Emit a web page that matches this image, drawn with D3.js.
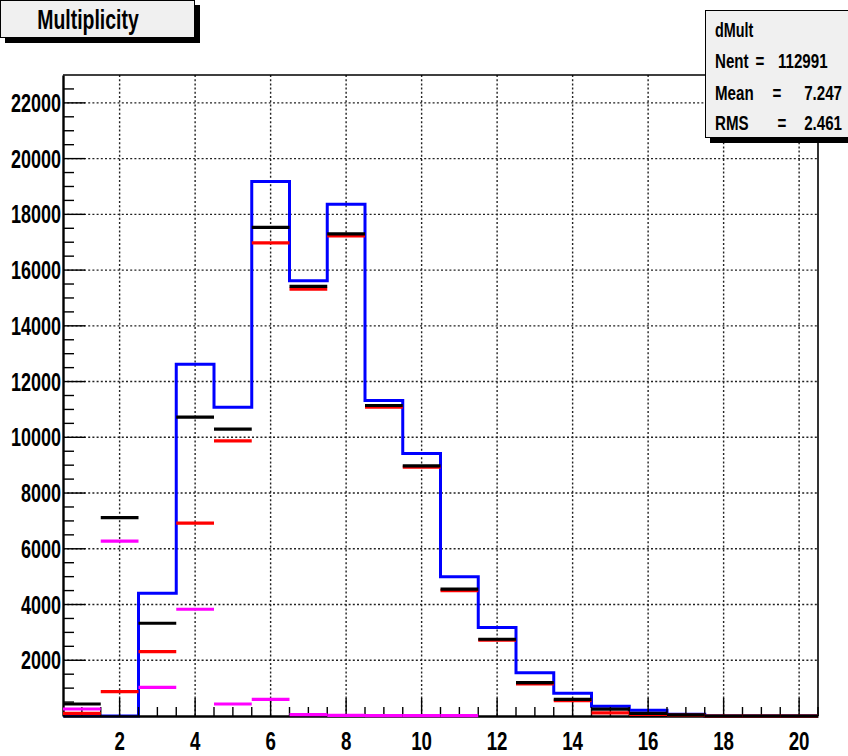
<!DOCTYPE html>
<html>
<head>
<meta charset="utf-8">
<script src="https://cdn.jsdelivr.net/npm/d3@7"></script>
<style>
  html, body { margin: 0; padding: 0; background: #fff; }
  svg { display: block; }
  text { font-family: "Liberation Sans", Arial, Helvetica, sans-serif; font-weight: bold; fill: #000; }
</style>
</head>
<body>
<svg id="chart" width="848" height="756"></svg>
<script>
// Bin centres of the multiplicity histogram (unit-width bins, 0.5 .. 20.5)
const bins = d3.range(1, 21);

// dMult: total multiplicity, drawn as a step histogram
const totalCounts   = [0, 0, 4405, 12620, 11080, 19180, 15620, 18360, 11320, 9420, 5000, 3180, 1550, 815, 350, 205, 60, 0, 0, 0];
// Component histograms, drawn as horizontal bin markers
const blackCounts   = [431, 7120, 3328, 10725, 10294, 17533, 15415, 17296, 11142, 8977, 4555, 2754, 1196, 600, 250, 95, 40, 0, 0, 0];
const redCounts     = [97, 873, 2310, 6918, 9874, 16973, 15320, 17230, 11080, 8930, 4500, 2720, 1150, 550, 110, 60, 30, 0, 0, 0];
const magentaCounts = [251, 6272, 1030, 3830, 431, 600, 50, 20, 15, 10, 10, null, null, null, null, null, null, null, null, null];

// Axis ticks
const xMajorTicks = [2, 4, 6, 8, 10, 12, 14, 16, 18, 20];
const yMajorTicks = [2000, 4000, 6000, 8000, 10000, 12000, 14000, 16000, 18000, 20000, 22000];

// Statistics box text
const statsTitle = "dMult";
const statsRows = [
  ["Nent", "=", "112991"],
  ["Mean", "=", "7.247"],
  ["RMS", "=", "2.461"]
];
const chartTitle = "Multiplicity";

const svg = d3.select("#chart");
const frame = { left: 63, right: 818, top: 75, bottom: 716 };
const SX = 0.72; // horizontal compression of the bold label font

const x = d3.scaleLinear().domain([0.5, 20.5]).range([frame.left, frame.right]);
const y = d3.scaleLinear().domain([0, 23000]).range([frame.bottom, frame.top]);

function label(g, txt, px, py, size, anchor) {
  return g.append("text")
    .attr("transform", `translate(${px},${py}) scale(${SX},1)`)
    .attr("text-anchor", anchor || "start")
    .attr("font-size", size)
    .text(txt);
}

// Dotted grid
const grid = svg.append("g").attr("stroke", "#222").attr("stroke-width", 1.4)
  .attr("stroke-dasharray", "2,2.2");
grid.selectAll("line.v").data(xMajorTicks).join("line")
  .attr("x1", d => x(d)).attr("x2", d => x(d))
  .attr("y1", frame.top).attr("y2", frame.bottom);
grid.selectAll("line.h").data(yMajorTicks).join("line")
  .attr("x1", frame.left).attr("x2", frame.right)
  .attr("y1", d => y(d)).attr("y2", d => y(d));

// Frame (top and right)
svg.append("path")
  .attr("d", `M${frame.left},${frame.top}H${frame.right}V${frame.bottom}`)
  .attr("fill", "none").attr("stroke", "#000").attr("stroke-width", 1.6);

// Step histogram for the total
const stepLine = d3.line().curve(d3.curveStepAfter).x(d => x(d[0])).y(d => y(d[1]));
const stepPts = bins.map((b, i) => [b - 0.5, totalCounts[i]]);
stepPts.push([20.5, totalCounts[totalCounts.length - 1]]);
svg.append("path").datum(stepPts)
  .attr("d", stepLine)
  .attr("fill", "none").attr("stroke", "#0000ff").attr("stroke-width", 3);

// X axis with major and minor ticks
const xMinor = d3.range(1, 20.51, 0.5).filter(v => !xMajorTicks.includes(v));
const xAxis = svg.append("g").attr("transform", `translate(0,${frame.bottom})`)
  .call(d3.axisBottom(x).tickValues(xMajorTicks).tickSize(0).tickFormat(""));
xAxis.select(".domain").attr("stroke", "#000").attr("stroke-width", 2.4);
svg.append("g").attr("stroke", "#000").attr("stroke-width", 1.4)
  .selectAll("line").data(xMajorTicks.map(v => [v, 18]).concat(xMinor.map(v => [v, 9]))).join("line")
  .attr("x1", d => x(d[0])).attr("x2", d => x(d[0]))
  .attr("y1", frame.bottom).attr("y2", d => frame.bottom - d[1]);

// Y axis with major and minor ticks
const yAxis = svg.append("g").attr("transform", `translate(${frame.left},0)`)
  .call(d3.axisLeft(y).tickValues(yMajorTicks).tickSize(0).tickFormat(""));
yAxis.select(".domain").attr("stroke", "#000").attr("stroke-width", 2.4);
const yMinor = d3.range(500, 22501, 500).filter(v => !yMajorTicks.includes(v));
svg.append("g").attr("stroke", "#000").attr("stroke-width", 1.4)
  .selectAll("line").data(yMajorTicks.map(v => [v, 22]).concat(yMinor.map(v => [v, 11]))).join("line")
  .attr("x1", frame.left).attr("x2", d => frame.left + d[1])
  .attr("y1", d => y(d[0])).attr("y2", d => y(d[0]));

// Tick labels
const tickLabels = svg.append("g");
yMajorTicks.forEach(v => label(tickLabels, String(v), 61, y(v) + 9, 25, "end"));
xMajorTicks.forEach(v => label(tickLabels, String(v), x(v), 750, 26, "middle"));

// Component histograms as horizontal markers per bin
function drawMarkers(values, color) {
  const data = bins.map((b, i) => ({ b, v: values[i] })).filter(d => d.v !== null);
  svg.append("g").selectAll("line").data(data).join("line")
    .attr("x1", d => x(d.b - 0.5)).attr("x2", d => x(d.b + 0.5))
    .attr("y1", d => y(d.v)).attr("y2", d => y(d.v))
    .attr("stroke", color).attr("stroke-width", 3.2);
}
drawMarkers(redCounts, "#ff0000");
drawMarkers(blackCounts, "#000000");
drawMarkers(magentaCounts, "#ff00ff");

// Title box
const tb = svg.append("g");
tb.append("rect").attr("x", 5).attr("y", 5).attr("width", 195).attr("height", 38).attr("fill", "#000");
tb.append("rect").attr("x", 0.5).attr("y", 0.5).attr("width", 194).attr("height", 37)
  .attr("fill", "#f0f0f0").attr("stroke", "#000").attr("stroke-width", 1);
label(tb, chartTitle, 88, 29, 27, "middle");

// Statistics box
const sb = svg.append("g");
sb.append("rect").attr("x", 710).attr("y", 15).attr("width", 150).attr("height", 128).attr("fill", "#000");
sb.append("rect").attr("x", 705.5).attr("y", 10.5).attr("width", 150).attr("height", 127)
  .attr("fill", "#f0f0f0").attr("stroke", "#000").attr("stroke-width", 1);
label(sb, statsTitle, 715, 37, 20, "start");
const rowY = [68, 100, 130];
const eqX = [760, 777, 782];
statsRows.forEach((r, i) => {
  label(sb, r[0], 715, rowY[i], 21, "start");
  label(sb, r[1], eqX[i], rowY[i], 21, "middle");
  if (i === 0) label(sb, r[2], 778, rowY[i], 21, "start");
  else label(sb, r[2], 842, rowY[i], 21, "end");
});
</script>
</body>
</html>
